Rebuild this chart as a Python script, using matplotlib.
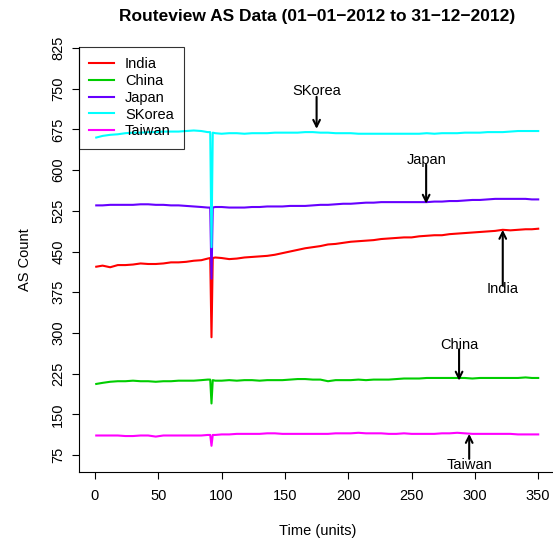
import matplotlib
matplotlib.use('Agg')
import matplotlib.pyplot as plt

plt.rcParams['font.family'] = ['Liberation Sans', 'DejaVu Sans']

# sample times (units)
time = [1, 6, 12, 18, 24, 30, 36, 42, 48, 54, 60, 66, 72, 78, 84,
        89, 91, 92, 93, 95,
        100, 106, 112, 118, 124, 130, 136, 142, 148, 154, 160, 166, 172, 178,
        184, 190, 196, 202, 208, 214, 220, 226, 232, 238, 244, 250, 256, 262,
        268, 274, 280, 286, 292, 298, 304, 310, 316, 322, 328, 334, 340, 345, 350]

india = [422, 424, 421, 425, 425, 426, 428, 427, 427, 428, 430, 430, 431, 433, 434,
         437, 438, 292, 438, 439,
         438, 436, 437, 439, 440, 441, 442, 444, 447, 450, 453, 456, 458, 460,
         463, 464, 466, 468, 469, 470, 471, 473, 474, 475, 476, 476, 478, 479,
         480, 480, 482, 483, 484, 485, 486, 487, 488, 490, 489, 490, 491, 491, 492]

china = [206, 208, 210, 211, 211, 212, 211, 211, 210, 211, 211, 212, 212, 212, 213,
         214, 214, 170, 213, 212,
         212, 213, 212, 213, 213, 212, 213, 213, 213, 214, 215, 215, 214, 214,
         211, 213, 213, 213, 214, 213, 214, 214, 214, 215, 216, 216, 216, 217,
         217, 217, 217, 217, 217, 216, 217, 217, 217, 217, 217, 217, 218, 217, 217]

japan = [535, 535, 536, 536, 536, 536, 537, 537, 536, 536, 535, 535, 534, 533, 532,
         531, 531, 400, 531, 532,
         532, 531, 531, 531, 532, 532, 533, 533, 533, 534, 534, 534, 535, 536,
         536, 537, 538, 538, 539, 540, 540, 541, 541, 541, 541, 541, 541, 541,
         542, 542, 543, 543, 544, 545, 545, 546, 547, 547, 547, 547, 547, 546, 546]

skorea = [660, 663, 665, 666, 668, 669, 669, 670, 670, 671, 671, 671, 672, 673, 672,
          670, 670, 458, 669, 668,
          667, 668, 668, 667, 668, 668, 668, 669, 669, 669, 669, 670, 670, 669,
          669, 668, 668, 668, 667, 667, 667, 667, 667, 667, 667, 667, 667, 668,
          667, 668, 668, 668, 669, 669, 669, 670, 670, 670, 671, 672, 672, 672, 672]

taiwan = [111, 111, 111, 111, 110, 110, 111, 111, 109, 111, 111, 111, 111, 111, 111,
          112, 112, 92, 112, 112,
          113, 113, 114, 114, 114, 114, 115, 115, 114, 114, 114, 114, 114, 114,
          114, 115, 115, 115, 116, 115, 115, 115, 114, 114, 115, 114, 114, 114,
          114, 115, 115, 116, 115, 114, 114, 114, 114, 114, 114, 113, 113, 113, 113]

countries = ['India', 'China', 'Japan', 'SKorea', 'Taiwan']
series = [india, china, japan, skorea, taiwan]
colors = ['#FF0000', '#00CD00', '#6600FF', '#00FFFF', '#FF00FF']

# labelled arrows: (label, time, text y, arrow start y, arrow tip y)
notes = [
    ('SKorea', 175, 746, 735, 676),
    ('Japan', 261.5, 619, 610, 538),
    ('India', 322, 381, 387, 490),
    ('China', 287.5, 278, 270, 212),
    ('Taiwan', 295.5, 57, 68, 114),
]

yticks = [75, 150, 225, 300, 375, 450, 525, 600, 675, 750, 825]
xticks = [0, 50, 100, 150, 200, 250, 300, 350]

FS = 10.5

fig = plt.figure(figsize=(5.53, 5.41), dpi=100)
ax = fig.add_axes([0.1429, 0.1275, 0.8622, 0.7856])

for name, vals, c in zip(countries, series, colors):
    ax.plot(time, vals, color=c, lw=1.5, label=name)

for label, t, ty, y0, y1 in notes:
    ax.annotate('', xy=(t, y1), xytext=(t, y0),
                arrowprops=dict(arrowstyle='->', color='black', lw=1.5,
                                shrinkA=0, shrinkB=0, mutation_scale=12))
    ax.text(t, ty, label, ha='center', va='center', fontsize=FS)

ax.set_xlim(-12.6, 363.9)
ax.set_ylim(43.7, 826.8)
ax.set_xticks(xticks)
ax.set_yticks(yticks)
ax.set_yticklabels([str(v) for v in yticks], rotation=90, va='center')
ax.tick_params(direction='out', length=5, width=0.8, labelsize=FS)
ax.tick_params(axis='x', pad=7)
ax.tick_params(axis='y', pad=5)
ax.spines['top'].set_visible(False)
ax.spines['right'].set_visible(False)

ax.set_xlabel('Time (units)', fontsize=FS, labelpad=15)
ax.set_ylabel('AS Count', fontsize=FS, labelpad=14)
ax.set_title('Routeview AS Data (01\u221201\u22122012 to 31\u221212\u22122012)',
             fontsize=12.5, fontweight='bold', pad=19)

leg = ax.legend(loc='upper left', bbox_to_anchor=(0, 1), borderaxespad=0,
                fontsize=FS, fancybox=False, edgecolor='black',
                handlelength=1.7, handletextpad=0.75, labelspacing=0.19,
                borderpad=0.7)
leg.get_frame().set_facecolor('none')
leg.get_frame().set_linewidth(0.8)

plt.savefig('out.png', dpi=100)
